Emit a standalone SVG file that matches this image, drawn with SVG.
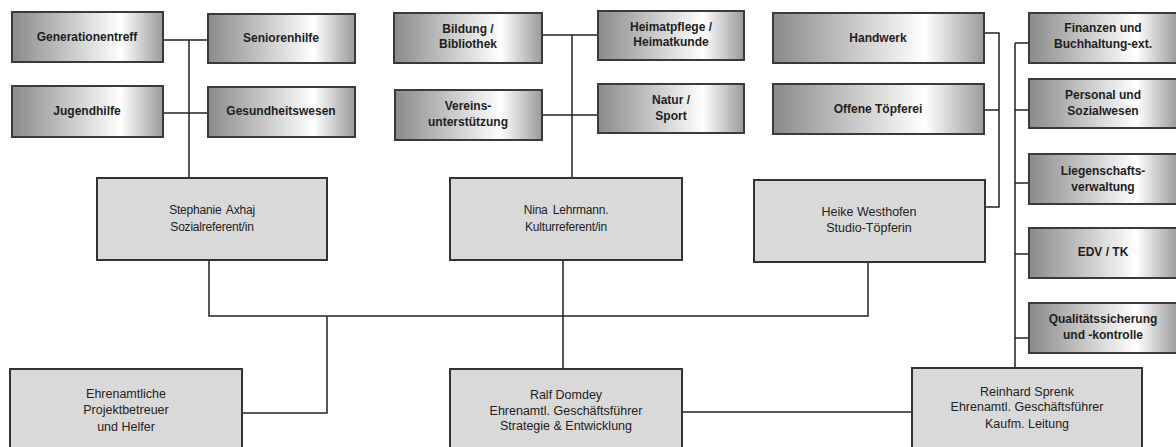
<svg xmlns="http://www.w3.org/2000/svg" width="1176" height="447" viewBox="0 0 1176 447">
<defs>
<linearGradient id="g" x1="0" y1="0" x2="1" y2="0">
<stop offset="0" stop-color="#8a8a8a"/>
<stop offset="0.72" stop-color="#ffffff"/>
<stop offset="1" stop-color="#9a9a9a"/>
</linearGradient>
<style>
.u rect{fill:url(#g);stroke:#3a3a3a;stroke-width:2}
.p rect{fill:#d9d9d9;stroke:#333;stroke-width:2}
.u text{font-family:"Liberation Sans",Arial,sans-serif;font-weight:bold;font-size:12px;fill:#1e1e1e;text-anchor:middle}
.p text{font-family:"Liberation Sans",Arial,sans-serif;font-size:12.5px;fill:#222;text-anchor:middle}
.p text.n{font-size:12px;letter-spacing:-0.2px;word-spacing:2px}
#conn path{fill:none;stroke:#222;stroke-width:1.5}
</style>
</defs>
<rect width="1176" height="447" fill="#fff"/>
<g id="conn">
<path d="M163,40 H208 M163,113 H208 M189,40 V178"/>
<path d="M542,35 H598 M542,115 H598 M572,35 V178"/>
<path d="M984,33 H999 V207 H985 M984,110 H999"/>
<path d="M1015,43 V368 M1015,43 H1029 M1015,110 H1029 M1015,183 H1029 M1015,254 H1029 M1015,338 H1029"/>
<path d="M209,260 V316 H868 V262 M563,260 V369 M327,316 V413 H242 M682,412 H912"/>
</g>
<g id="n-generationentreff" class="u"><rect x="12" y="12" width="151" height="50"/><text x="87" y="41">Generationentreff</text></g>
<g id="n-seniorenhilfe" class="u"><rect x="208" y="14" width="147" height="49"/><text x="281" y="42">Seniorenhilfe</text></g>
<g id="n-jugendhilfe" class="u"><rect x="12" y="86" width="151" height="51"/><text x="87" y="115">Jugendhilfe</text></g>
<g id="n-gesundheitswesen" class="u"><rect x="208" y="87" width="147" height="50"/><text x="281" y="115">Gesundheitswesen</text></g>
<g id="n-bildung" class="u"><rect x="394" y="13" width="148" height="50"/><text x="468" y="33">Bildung /</text><text x="468" y="48">Bibliothek</text></g>
<g id="n-heimatpflege" class="u"><rect x="598" y="11" width="146" height="49"/><text x="671" y="31">Heimatpflege /</text><text x="671" y="46">Heimatkunde</text></g>
<g id="n-vereins" class="u"><rect x="395" y="90" width="147" height="50"/><text x="468" y="110">Vereins-</text><text x="468" y="126">unterstützung</text></g>
<g id="n-natur" class="u"><rect x="598" y="84" width="146" height="49"/><text x="671" y="104">Natur /</text><text x="671" y="120">Sport</text></g>
<g id="n-handwerk" class="u"><rect x="773" y="13" width="211" height="50"/><text x="878" y="42">Handwerk</text></g>
<g id="n-toepferei" class="u"><rect x="773" y="84" width="211" height="50"/><text x="878" y="113">Offene Töpferei</text></g>
<g id="n-finanzen" class="u"><rect x="1029" y="13" width="149" height="50"/><text x="1103" y="32">Finanzen und</text><text x="1103" y="48">Buchhaltung-ext.</text></g>
<g id="n-personal" class="u"><rect x="1029" y="79" width="149" height="49"/><text x="1103" y="99">Personal und</text><text x="1103" y="115">Sozialwesen</text></g>
<g id="n-liegenschaft" class="u"><rect x="1029" y="154" width="149" height="50"/><text x="1103" y="175">Liegenschafts-</text><text x="1103" y="191">verwaltung</text></g>
<g id="n-edv" class="u"><rect x="1029" y="228" width="149" height="50"/><text x="1103" y="256">EDV / TK</text></g>
<g id="n-qualitaet" class="u"><rect x="1029" y="303" width="149" height="50"/><text x="1103" y="323">Qualitätssicherung</text><text x="1103" y="339">und -kontrolle</text></g>
<g id="n-stephanie" class="p"><rect x="97" y="178" width="230" height="82"/><text class="n" x="212" y="214">Stephanie Axhaj</text><text class="n" x="212" y="231">Sozialreferent/in</text></g>
<g id="n-nina" class="p"><rect x="450" y="178" width="232" height="82"/><text class="n" x="566" y="214">Nina Lehrmann.</text><text class="n" x="566" y="231">Kulturreferent/in</text></g>
<g id="n-heike" class="p"><rect x="754" y="180" width="231" height="82"/><text x="869" y="216">Heike Westhofen</text><text x="869" y="232">Studio-Töpferin</text></g>
<g id="n-ehrenamt" class="p"><rect x="10" y="369" width="232" height="82"/><text x="126" y="398">Ehrenamtliche</text><text x="126" y="414">Projektbetreuer</text><text x="126" y="431">und Helfer</text></g>
<g id="n-ralf" class="p"><rect x="450" y="369" width="232" height="82"/><text x="566" y="399">Ralf Domdey</text><text x="566" y="415">Ehrenamtl. Geschäftsführer</text><text x="566" y="430">Strategie &amp; Entwicklung</text></g>
<g id="n-reinhard" class="p"><rect x="912" y="368" width="230" height="83"/><text x="1027" y="396">Reinhard Sprenk</text><text x="1027" y="411">Ehrenamtl. Geschäftsführer</text><text x="1027" y="428">Kaufm. Leitung</text></g>
</svg>
